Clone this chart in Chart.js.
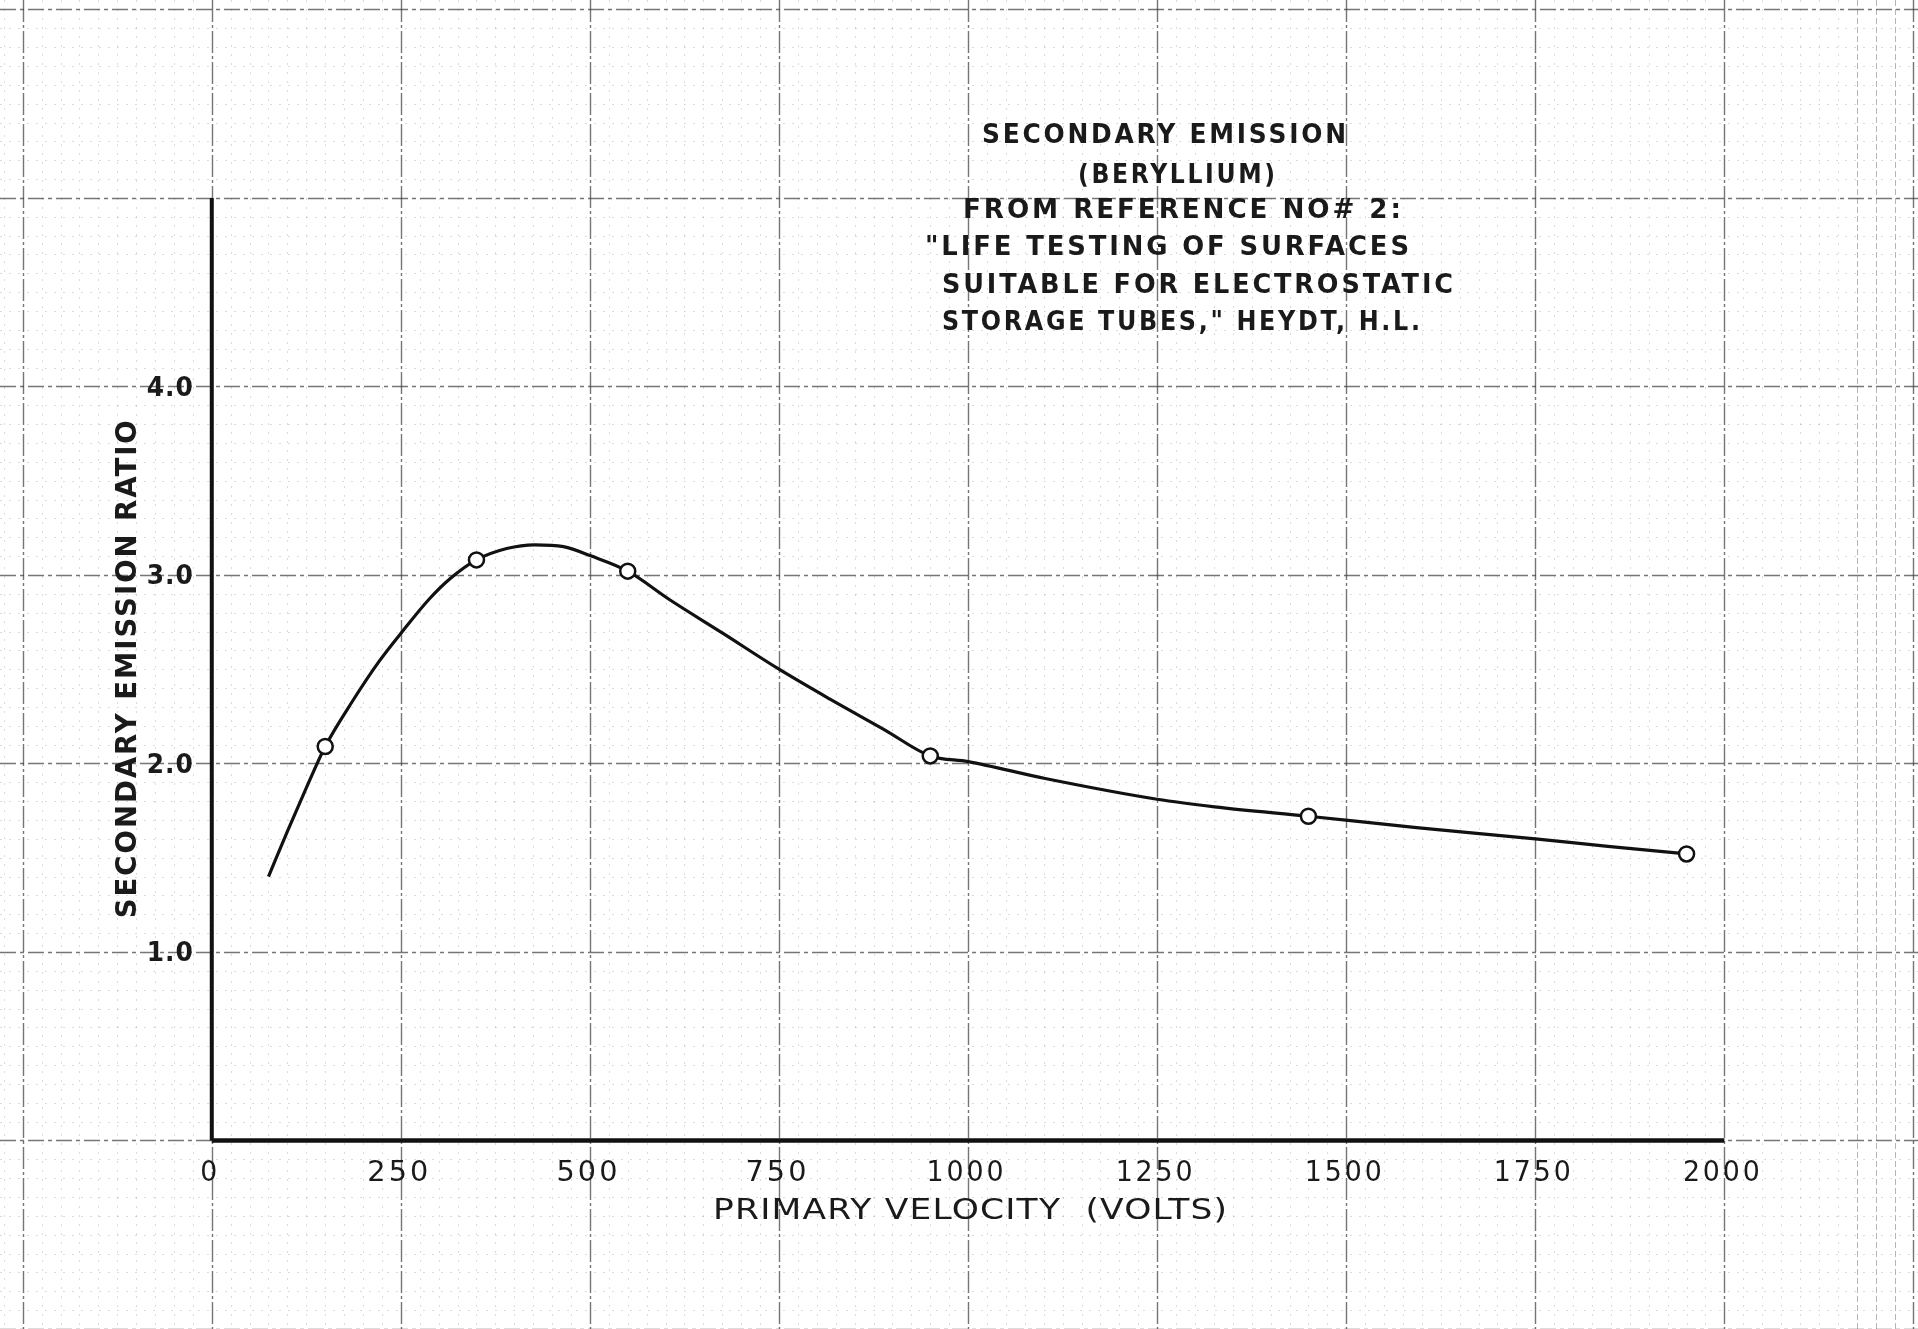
<!DOCTYPE html>
<html lang="en">
<head>
  <meta charset="UTF-8">
  <title>Secondary Emission (Beryllium)</title>
  <script src="https://cdn.jsdelivr.net/npm/chart.js"></script>
  <style>
    body {
      margin: 0;
      padding: 0;
      background-color: #ffffff;
      overflow: hidden;
    }

    .graph-container {
      width: 1918px;
      height: 1329px;
      position: relative;
    }
  </style>
</head>
<body>
  <div class="graph-container">
    <canvas id="emissionChart"></canvas>
  </div>
  <script>
    // values
    const voltTicks = [0, 250, 500, 750, 1000, 1250, 1500, 1750, 2000];
    const ratioTicks = [1.0, 2.0, 3.0, 4.0];

    // measured points (circles)
    const pointVolts = [150, 350, 550, 950, 1450, 1950];
    const pointRatio = [2.09, 3.08, 3.02, 2.04, 1.72, 1.52];

    // hand drawn curve
    const curveVolts = [75, 100, 125, 150, 186, 221, 252, 287, 315, 350, 390, 427, 465, 502, 550, 605, 676, 750, 818, 889, 950, 1000, 1102, 1250, 1326, 1450, 1593, 1750, 1846, 1950];
    const curveRatio = [1.40, 1.64, 1.87, 2.09, 2.33, 2.54, 2.70, 2.87, 2.98, 3.08, 3.14, 3.16, 3.15, 3.10, 3.02, 2.87, 2.69, 2.50, 2.34, 2.18, 2.04, 2.01, 1.92, 1.81, 1.77, 1.72, 1.66, 1.60, 1.56, 1.52];

    // drawn axis extents
    const axisVolts = [0, 2000];
    const axisRatio = [0, 5.0];

    const titleLines = [
      'SECONDARY EMISSION',
      '(BERYLLIUM)',
      'FROM REFERENCE NO# 2:',
      '"LIFE TESTING OF SURFACES',
      'SUITABLE FOR ELECTROSTATIC',
      'STORAGE TUBES," HEYDT, H.L.'
    ];
    const xTitle = 'PRIMARY VELOCITY  (VOLTS)';
    const yTitle = 'SECONDARY EMISSION RATIO';

    const toXY = (xs, ys) => xs.map((v, i) => ({ x: v, y: ys[i] }));

    // draw caps text so that it covers a given width (spacing + horizontal squeeze)
    function fitText(ctx, text, left, cy, width, size, spacing) {
      ctx.save();
      ctx.letterSpacing = spacing + 'px';
      const natural = ctx.measureText(text).width - spacing;
      ctx.translate(left, cy + size * 0.365);
      ctx.scale(width / natural, 1);
      ctx.textAlign = 'left';
      ctx.textBaseline = 'alphabetic';
      ctx.fillText(text, 0, 0);
      ctx.restore();
    }

    // graph paper: faint dotted minor rulings, broken major rulings
    const paperPlugin = {
      id: 'graphPaper',
      beforeDatasetsDraw(chart) {
        const ctx = chart.ctx;
        const xs = chart.scales.x;
        const ys = chart.scales.y;
        const area = chart.chartArea;
        ctx.save();

        const rule = (vertical, value, color, width, dash) => {
          ctx.beginPath();
          ctx.strokeStyle = color;
          ctx.lineWidth = width;
          ctx.setLineDash(dash);
          if (vertical) {
            const p = Math.round(xs.getPixelForValue(value)) + 0.5;
            ctx.moveTo(p, area.top);
            ctx.lineTo(p, area.bottom);
          } else {
            const p = Math.round(ys.getPixelForValue(value)) + 0.5;
            ctx.moveTo(area.left, p);
            ctx.lineTo(area.right, p);
          }
          ctx.stroke();
        };

        // minor rulings every 25 V / 0.1
        for (let k = Math.ceil(xs.min / 25); k * 25 <= xs.max; k++) {
          if (k % 10 === 0) continue;
          const v = k * 25;
          if (v > 2150) rule(true, v, 'rgba(90,90,90,0.45)', 1, [6, 3]);
          else rule(true, v, 'rgba(110,110,110,0.25)', 1, [2, 7]);
        }
        for (let k = Math.ceil(ys.min * 10); k / 10 <= ys.max; k++) {
          if (k % 10 === 0) continue;
          rule(false, k / 10, 'rgba(110,110,110,0.25)', 1, [2, 7]);
        }

        // major rulings every 250 V / 1.0
        for (let k = Math.ceil(xs.min / 250); k * 250 <= xs.max; k++) {
          rule(true, k * 250, 'rgba(60,60,60,0.7)', 1.4, [22, 3, 3, 3]);
        }
        for (let k = Math.ceil(ys.min); k <= ys.max; k++) {
          rule(false, k, 'rgba(60,60,60,0.7)', 1.4, [16, 4, 4, 4]);
        }
        ctx.restore();
      }
    };

    const labelPlugin = {
      id: 'sheetLabels',
      afterDraw(chart) {
        const ctx = chart.ctx;
        const xs = chart.scales.x;
        const ys = chart.scales.y;
        const x0 = xs.getPixelForValue(0);
        const y0 = ys.getPixelForValue(0);
        ctx.save();
        ctx.fillStyle = '#1a1a1a';

        // x tick labels
        ctx.font = '28px "DejaVu Sans"';
        voltTicks.forEach(v => {
          const t = String(v);
          const w = t.length === 1 ? 17 : t.length === 3 ? 61 : 77;
          fitText(ctx, t, xs.getPixelForValue(v) - w / 2 - 3, y0 + 30, w, 28, 3);
        });

        // y tick labels
        ctx.font = 'bold 26px "DejaVu Sans"';
        ratioTicks.forEach(v => {
          const t = v.toFixed(1);
          fitText(ctx, t, x0 - 65, ys.getPixelForValue(v), 46, 26, 1);
        });

        // axis titles
        ctx.font = '29px "DejaVu Sans"';
        fitText(ctx, xTitle, xs.getPixelForValue(1000) - 255, y0 + 68, 514, 29, 1);

        ctx.save();
        ctx.translate(x0 - 86, ys.getPixelForValue(2.5));
        ctx.rotate(-Math.PI / 2);
        ctx.font = 'bold 28px "DejaVu Sans"';
        fitText(ctx, yTitle, -249, 0, 498, 28, 2);
        ctx.restore();

        // title block
        const boxes = [
          [982, 133, 364], [1078, 173, 197], [963, 208, 438],
          [925, 245, 484], [942, 283, 511], [942, 320, 478]
        ];
        ctx.font = 'bold 27px "DejaVu Sans"';
        titleLines.forEach((t, i) => {
          const b = boxes[i];
          fitText(ctx, t, b[0], b[1], b[2], 27, 3);
        });
        ctx.restore();
      }
    };

    const ctx = document.getElementById('emissionChart').getContext('2d');
    const emissionChart = new Chart(ctx, {
      type: 'line',
      data: {
        datasets: [{
          label: 'Measured',
          data: toXY(pointVolts, pointRatio),
          showLine: false,
          pointRadius: 7.5,
          pointBorderWidth: 2.5,
          pointBorderColor: '#111',
          pointBackgroundColor: '#fff',
          order: 0
        }, {
          label: 'Curve',
          data: toXY(curveVolts, curveRatio),
          borderColor: '#111',
          borderWidth: 3.2,
          pointRadius: 0,
          cubicInterpolationMode: 'monotone',
          fill: false,
          order: 1
        }, {
          label: 'x axis',
          data: toXY(axisVolts, [0, 0]),
          borderColor: '#111',
          borderWidth: 4.5,
          pointRadius: 0,
          order: 2
        }, {
          label: 'y axis',
          data: toXY([0, 0], axisRatio),
          borderColor: '#111',
          borderWidth: 4,
          pointRadius: 0,
          order: 2
        }]
      },
      options: {
        responsive: true,
        maintainAspectRatio: false,
        animation: false,
        layout: { padding: 0, autoPadding: false },
        plugins: {
          legend: { display: false },
          tooltip: { enabled: false }
        },
        scales: {
          x: {
            type: 'linear',
            display: false,
            min: -280,
            max: 2256
          },
          y: {
            type: 'linear',
            display: false,
            min: -1.0,
            max: 6.05
          }
        }
      },
      plugins: [paperPlugin, labelPlugin]
    });
  </script>
</body>
</html>
